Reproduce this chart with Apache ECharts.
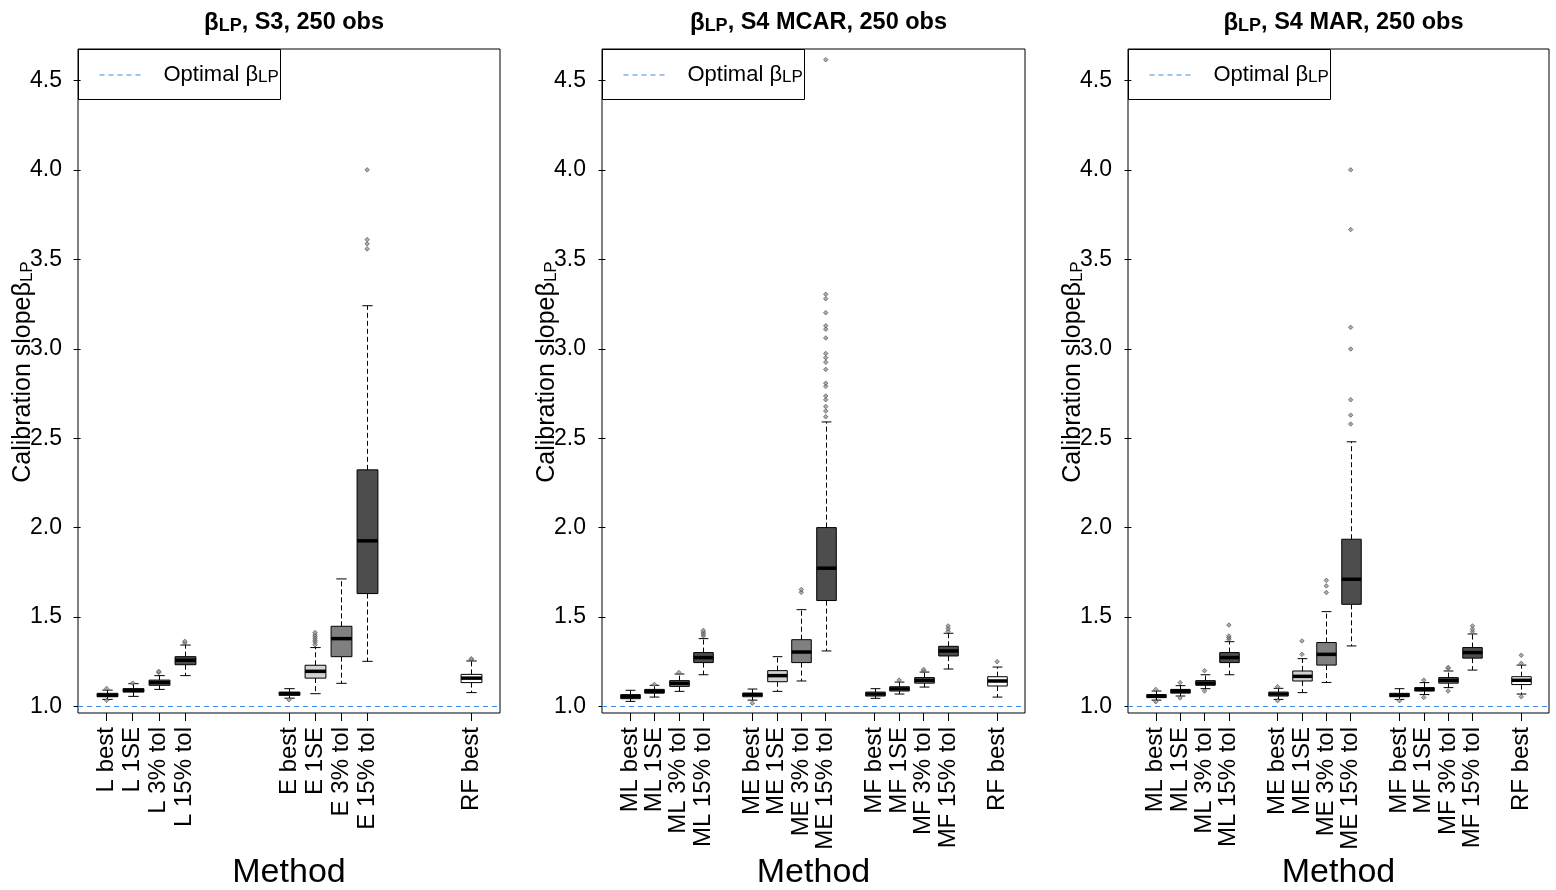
<!DOCTYPE html>
<html>
<head>
<meta charset="utf-8">
<script src="https://cdn.jsdelivr.net/npm/echarts@6/dist/echarts.min.js"></script>
<style>
html,body{margin:0;padding:0;background:#fff;}
#chart{width:1556px;height:890px;}
</style>
</head>
<body>
<div id="chart"></div>
<script>
// ---------------- DATA ----------------
const yTicks = [1.0, 1.5, 2.0, 2.5, 3.0, 3.5, 4.0, 4.5];
const optimalSlope = 1.0;
// group index: 0 = best, 1 = 1SE, 2 = 3% tol, 3 = 15% tol

// Panel 1: S3, 250 obs
const p1Title = ', S3, 250 obs';
const p1Names = ['L best','L 1SE','L 3% tol','L 15% tol','E best','E 1SE','E 3% tol','E 15% tol','RF best'];
const p1Pos = [1,2,3,4,8,9,10,11,15];
const p1Grp = [0,1,2,3,0,1,2,3,0];
const p1Lo  = [1.039,1.056,1.095,1.172,1.046,1.071,1.129,1.252,1.077];
const p1Q1  = [1.054,1.080,1.118,1.233,1.062,1.158,1.278,1.631,1.133];
const p1Med = [1.063,1.090,1.133,1.258,1.071,1.196,1.379,1.926,1.158];
const p1Q3  = [1.073,1.099,1.147,1.278,1.080,1.230,1.448,2.323,1.179];
const p1Hi  = [1.091,1.127,1.172,1.343,1.099,1.329,1.713,3.241,1.254];
const p1Out = [[1.100,1.034],[1.130],[1.190,1.196],[1.355,1.364],[1.037],
               [1.345,1.360,1.370,1.380,1.390,1.400,1.413],[],[3.559,3.587,3.611,4.001],[1.262,1.267]];

// Panel 2: S4 MCAR, 250 obs
const p2Title = ', S4 MCAR, 250 obs';
const p2Names = ['ML best','ML 1SE','ML 3% tol','ML 15% tol','ME best','ME 1SE','ME 3% tol','ME 15% tol','MF best','MF 1SE','MF 3% tol','MF 15% tol','RF best'];
const p2Pos = [1,2,3,4,6,7,8,9,11,12,13,14,16];
const p2Grp = [0,1,2,3,0,1,2,3,0,1,2,3,0];
const p2Lo  = [1.028,1.052,1.084,1.177,1.035,1.084,1.142,1.310,1.045,1.069,1.108,1.209,1.052];
const p2Q1  = [1.043,1.074,1.112,1.245,1.054,1.138,1.245,1.592,1.058,1.086,1.130,1.282,1.114];
const p2Med = [1.054,1.084,1.129,1.273,1.066,1.172,1.304,1.773,1.069,1.098,1.146,1.310,1.142];
const p2Q3  = [1.066,1.095,1.144,1.301,1.074,1.200,1.373,2.000,1.080,1.110,1.161,1.336,1.166];
const p2Hi  = [1.090,1.118,1.181,1.379,1.097,1.278,1.541,2.591,1.099,1.136,1.192,1.409,1.220];
const p2Out = [[],[1.123],[1.190],[1.394,1.405,1.415,1.425],[1.018],[],[1.638,1.654],
               [2.620,2.652,2.677,2.715,2.736,2.790,2.808,2.885,2.925,2.950,2.974,3.061,3.110,3.129,3.202,3.280,3.305,4.617],
               [],[1.147],[1.200,1.207],[1.420,1.435,1.450],[1.250]];

// Panel 3: S4 MAR, 250 obs
const p3Title = ', S4 MAR, 250 obs';
const p3Names = ['ML best','ML 1SE','ML 3% tol','ML 15% tol','ME best','ME 1SE','ME 3% tol','ME 15% tol','MF best','MF 1SE','MF 3% tol','MF 15% tol','RF best'];
const p3Pos = [1,2,3,4,6,7,8,9,11,12,13,14,16];
const p3Grp = [0,1,2,3,0,1,2,3,0,1,2,3,0];
const p3Lo  = [1.035,1.058,1.099,1.177,1.039,1.077,1.134,1.338,1.039,1.066,1.105,1.203,1.069];
const p3Q1  = [1.049,1.074,1.118,1.245,1.058,1.142,1.231,1.571,1.054,1.086,1.130,1.270,1.122];
const p3Med = [1.057,1.085,1.130,1.273,1.069,1.168,1.291,1.711,1.063,1.095,1.146,1.301,1.146];
const p3Q3  = [1.066,1.095,1.144,1.301,1.080,1.198,1.357,1.935,1.073,1.105,1.161,1.329,1.166];
const p3Hi  = [1.086,1.116,1.177,1.362,1.101,1.267,1.530,2.480,1.099,1.133,1.198,1.405,1.231];
const p3Out = [[1.026,1.095],[1.047,1.133],[1.086,1.200],[1.375,1.385,1.394,1.455],[1.032,1.110],[1.291,1.366],
               [1.637,1.674,1.705],[2.579,2.629,2.715,2.999,3.120,3.667,4.001],
               [1.032],[1.050,1.147],[1.086,1.213,1.218],[1.418,1.431,1.450],[1.054,1.241,1.286]];

// ---------------- STYLE / LAYOUT ----------------
const FONT = '"Liberation Sans", Arial, sans-serif';
const boxFill = ['#FFFFFF', '#D3D3D3', '#808080', '#4D4D4D'];
const blue = '#3C8EEA';

const panels = [
  {title:p1Title, names:p1Names, pos:p1Pos, grp:p1Grp, lo:p1Lo, q1:p1Q1, med:p1Med, q3:p1Q3, hi:p1Hi, out:p1Out,
   left:78, width:422, xMin:-0.1, xMax:16.1},
  {title:p2Title, names:p2Names, pos:p2Pos, grp:p2Grp, lo:p2Lo, q1:p2Q1, med:p2Med, q3:p2Q3, hi:p2Hi, out:p2Out,
   left:602, width:423, xMin:-0.14, xMax:17.14},
  {title:p3Title, names:p3Names, pos:p3Pos, grp:p3Grp, lo:p3Lo, q1:p3Q1, med:p3Med, q3:p3Q3, hi:p3Hi, out:p3Out,
   left:1128, width:421, xMin:-0.14, xMax:17.14}
];
const gridTop = 49, gridHeight = 664;
const yMin = 0.963, yMax = 4.677;

function renderBox(params, api) {
  const x = api.value(0);
  const lo = api.coord([x, api.value(1)]);
  const q1 = api.coord([x, api.value(2)]);
  const md = api.coord([x, api.value(3)]);
  const q3 = api.coord([x, api.value(4)]);
  const hi = api.coord([x, api.value(5)]);
  const g = api.value(6);
  const bw = api.size([0.8, 0])[0];
  const hw = bw / 2, cw = bw / 4;
  const cx = Math.round(lo[0]) + 0.5;
  const dash = [5, 3];
  return {
    type: 'group',
    children: [
      {type:'line', shape:{x1:cx, y1:q3[1], x2:cx, y2:hi[1]}, style:{stroke:'#000', lineWidth:1, lineDash:dash}},
      {type:'line', shape:{x1:cx, y1:q1[1], x2:cx, y2:lo[1]}, style:{stroke:'#000', lineWidth:1, lineDash:dash}},
      {type:'line', shape:{x1:cx-cw, y1:hi[1], x2:cx+cw, y2:hi[1]}, style:{stroke:'#000', lineWidth:1}},
      {type:'line', shape:{x1:cx-cw, y1:lo[1], x2:cx+cw, y2:lo[1]}, style:{stroke:'#000', lineWidth:1}},
      {type:'rect', shape:{x:cx-hw, y:q3[1], width:bw, height:q1[1]-q3[1]}, style:{fill:boxFill[g], stroke:'#000', lineWidth:1}},
      {type:'line', shape:{x1:cx-hw, y1:md[1], x2:cx+hw, y2:md[1]}, style:{stroke:'#000', lineWidth:3.5}}
    ]
  };
}

const grids = [], xAxes = [], yAxes = [], series = [], titles = [], graphics = [];
panels.forEach((p, i) => {
  grids.push({left:p.left, top:gridTop, width:p.width, height:gridHeight, show:true,
              outerBoundsMode:'none', containLabel:false,
              borderColor:'#000', borderWidth:1, backgroundColor:'transparent'});
  xAxes.push({
    gridIndex:i, type:'value', min:p.xMin, max:p.xMax,
    axisLine:{show:false}, splitLine:{show:false},
    axisTick:{show:true, customValues:p.pos, length:8, lineStyle:{color:'#000', width:1}},
    axisLabel:{show:true, customValues:p.pos, rotate:90, margin:14, color:'#000', fontSize:24, fontFamily:FONT,
               hideOverlap:false, formatter:(v) => { const k = p.pos.indexOf(Math.round(v)); return k >= 0 ? p.names[k] : ''; }},
    name:'Method', nameLocation:'middle', nameGap:143, nameMoveOverlap:false,
    nameTextStyle:{fontSize:34, color:'#000', fontFamily:FONT, verticalAlign:'top'}
  });
  yAxes.push({
    gridIndex:i, type:'value', min:yMin, max:yMax,
    axisLine:{show:false}, splitLine:{show:false},
    axisTick:{show:true, customValues:yTicks, length:7, lineStyle:{color:'#000', width:1}},
    axisLabel:{show:true, customValues:yTicks, margin:16, color:'#000', fontSize:23, fontFamily:FONT,
               formatter:(v) => Number(v).toFixed(1)},
    name:'Calibration slope{b|β}{s|LP}', nameLocation:'middle', nameRotate:90, nameGap:42, nameMoveOverlap:false,
    nameTextStyle:{fontSize:25, color:'#000', fontFamily:FONT, verticalAlign:'bottom', padding:[0,0,0,18],
      rich:{b:{fontSize:25, fontFamily:FONT, color:'#000'},
            s:{fontSize:17, fontFamily:FONT, color:'#000', verticalAlign:'bottom', lineHeight:8}}}
  });
  const boxData = p.pos.map((x, k) => [x, p.lo[k], p.q1[k], p.med[k], p.q3[k], p.hi[k], p.grp[k]]);
  series.push({
    type:'custom', xAxisIndex:i, yAxisIndex:i, renderItem:renderBox,
    encode:{x:0, y:[1,2,3,4,5]}, data:boxData, z:3,
    markLine:{silent:true, symbol:['none','none'], label:{show:false},
      lineStyle:{color:blue, type:[5,4], width:1.2}, data:[{yAxis:optimalSlope}]}
  });
  const outData = [];
  p.out.forEach((arr, k) => arr.forEach(v => outData.push([p.pos[k], v])));
  series.push({
    type:'scatter', xAxisIndex:i, yAxisIndex:i, data:outData, symbol:'diamond', symbolSize:4.5, z:4,
    itemStyle:{color:'#999', borderColor:'#333', borderWidth:0.7}
  });
  titles.push({
    text:'{b|β}{s|LP}{t|' + p.title + '}',
    left:p.left + p.width / 2, top:6, textAlign:'center',
    textStyle:{rich:{
      b:{fontSize:24, fontFamily:FONT, color:'#000'},
      s:{fontSize:18, fontFamily:FONT, fontWeight:'bold', color:'#000', verticalAlign:'bottom', lineHeight:10},
      t:{fontSize:23.5, fontFamily:FONT, fontWeight:'bold', color:'#000'}
    }}
  });
  graphics.push({
    type:'group', left:p.left, top:gridTop, z:10,
    children:[
      {type:'rect', shape:{x:0, y:0, width:202, height:50}, style:{fill:'#fff', stroke:'#000', lineWidth:1}},
      {type:'line', shape:{x1:21, y1:25.5, x2:62, y2:25.5}, style:{stroke:blue, lineWidth:1.2, lineDash:[5,4]}},
      {type:'text', x:85, y:25, style:{text:'Optimal {b|β}{s|LP}', fill:'#000', fontSize:22, fontFamily:FONT,
        verticalAlign:'middle',
        rich:{b:{fontSize:22, fontFamily:FONT, fill:'#000'},
              s:{fontSize:17, fontFamily:FONT, fill:'#000', verticalAlign:'bottom', lineHeight:6}}}}
    ]
  });
});

const chart = echarts.init(document.getElementById('chart'), null, {renderer:'canvas'});
chart.setOption({
  animation:false,
  backgroundColor:'#fff',
  title:titles,
  grid:grids,
  xAxis:xAxes,
  yAxis:yAxes,
  series:series,
  graphic:graphics
});
</script>
</body>
</html>
